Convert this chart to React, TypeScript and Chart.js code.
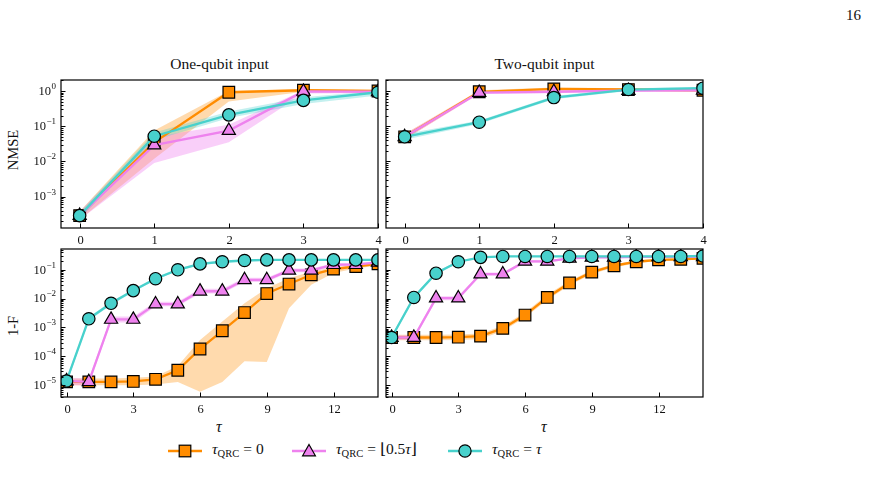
import React, { useEffect, useRef } from 'react';
import { Chart, registerables } from 'chart.js';

Chart.register(...registerables);

const SERIF = '"Liberation Serif", "Times New Roman", "DejaVu Serif", serif';

// Delays on the x axes
const tauShort = [0, 1, 2, 3, 4];
const tauLong = [0, 1, 2, 3, 4, 5, 6, 7, 8, 9, 10, 11, 12, 13, 14];

// Tick positions
const shortTicks = [0, 1, 2, 3, 4];
const longTicks = [0, 3, 6, 9, 12];
const nmseDecades = [0, -1, -2, -3];
const fidDecades = [-1, -2, -3, -4, -5];

// NMSE, one-qubit input
const nmse1Zero = [2.9e-4, 0.035, 0.92, 1.05, 1.0];
const nmse1ZeroLo = [2.2e-4, 0.012, 0.5, 0.95, 0.93];
const nmse1ZeroHi = [3.8e-4, 0.075, 1.0, 1.12, 1.06];
const nmse1Half = [2.9e-4, 0.029, 0.075, 0.97, 0.95];
const nmse1HalfLo = [2.2e-4, 0.009, 0.035, 0.85, 0.88];
const nmse1HalfHi = [3.8e-4, 0.05, 0.11, 1.05, 1.0];
const nmse1Full = [2.9e-4, 0.052, 0.21, 0.54, 0.92];
const nmse1FullLo = [2.3e-4, 0.04, 0.17, 0.43, 0.75];
const nmse1FullHi = [3.6e-4, 0.066, 0.26, 0.66, 1.02];

// NMSE, two-qubit input
const nmse2Zero = [0.05, 0.95, 1.15, 1.1, 1.05];
const nmse2ZeroLo = [0.042, 0.85, 1.05, 1.0, 0.97];
const nmse2ZeroHi = [0.06, 1.05, 1.25, 1.2, 1.12];
const nmse2Half = [0.05, 0.9, 0.95, 1.02, 1.05];
const nmse2HalfLo = [0.042, 0.82, 0.87, 0.95, 0.97];
const nmse2HalfHi = [0.06, 1.0, 1.04, 1.1, 1.12];
const nmse2Full = [0.05, 0.13, 0.65, 1.1, 1.2];
const nmse2FullLo = [0.041, 0.115, 0.58, 1.0, 1.1];
const nmse2FullHi = [0.06, 0.145, 0.72, 1.2, 1.3];

// Infidelity 1-F, one-qubit input
const fid1Zero = [1.3e-5, 1.3e-5, 1.3e-5, 1.35e-5, 1.6e-5, 3.3e-5, 1.8e-4, 7.7e-4, 3.3e-3, 0.015, 0.032, 0.067, 0.105, 0.13, 0.16];
const fid1ZeroLo = [1.0e-5, 1.0e-5, 1.0e-5, 1.0e-5, 1.05e-5, 1.3e-5, 5.9e-6, 1.3e-5, 6.8e-5, 6.4e-5, 4.6e-3, 0.03, 0.077, 0.11, 0.14];
const fid1ZeroHi = [1.7e-5, 1.7e-5, 1.7e-5, 1.8e-5, 2.0e-5, 4.6e-5, 3.7e-4, 1.6e-3, 6.9e-3, 0.023, 0.051, 0.087, 0.12, 0.15, 0.18];
const fid1Half = [1.4e-5, 1.3e-5, 1.9e-3, 1.9e-3, 6.5e-3, 6.5e-3, 0.018, 0.018, 0.045, 0.045, 0.095, 0.095, 0.15, 0.15, 0.18];
const fid1HalfLo = [1.0e-5, 1.0e-5, 1.5e-3, 1.5e-3, 5.4e-3, 5.4e-3, 0.015, 0.015, 0.038, 0.038, 0.082, 0.082, 0.13, 0.13, 0.16];
const fid1HalfHi = [1.8e-5, 1.7e-5, 2.4e-3, 2.4e-3, 7.8e-3, 7.8e-3, 0.022, 0.022, 0.053, 0.053, 0.11, 0.11, 0.17, 0.17, 0.2];
const fid1Full = [1.4e-5, 2.0e-3, 6.9e-3, 0.019, 0.049, 0.1, 0.16, 0.19, 0.21, 0.22, 0.22, 0.22, 0.22, 0.22, 0.22];
const fid1FullLo = [1.1e-5, 1.7e-3, 6.0e-3, 0.017, 0.044, 0.09, 0.145, 0.175, 0.195, 0.205, 0.205, 0.205, 0.205, 0.205, 0.205];
const fid1FullHi = [1.7e-5, 2.3e-3, 7.9e-3, 0.021, 0.055, 0.11, 0.175, 0.205, 0.225, 0.235, 0.235, 0.235, 0.235, 0.235, 0.235];

// Infidelity 1-F, two-qubit input
const fid2Zero = [4.5e-4, 4.5e-4, 4.5e-4, 4.6e-4, 5.0e-4, 9.3e-4, 2.7e-3, 0.011, 0.035, 0.083, 0.138, 0.19, 0.22, 0.23, 0.25];
const fid2ZeroLo = [3.6e-4, 3.6e-4, 3.6e-4, 3.7e-4, 4.0e-4, 7.5e-4, 2.2e-3, 0.009, 0.029, 0.071, 0.12, 0.17, 0.2, 0.21, 0.23];
const fid2ZeroHi = [5.6e-4, 5.6e-4, 5.6e-4, 5.7e-4, 6.2e-4, 1.15e-3, 3.3e-3, 0.0135, 0.042, 0.096, 0.155, 0.21, 0.24, 0.25, 0.27];
const fid2Half = [4.5e-4, 4.5e-4, 0.0104, 0.0104, 0.071, 0.071, 0.195, 0.195, 0.25, 0.27, 0.27, 0.28, 0.28, 0.28, 0.28];
const fid2HalfLo = [3.7e-4, 3.7e-4, 0.0088, 0.0088, 0.062, 0.062, 0.175, 0.175, 0.23, 0.25, 0.25, 0.26, 0.26, 0.26, 0.26];
const fid2HalfHi = [5.4e-4, 5.4e-4, 0.0122, 0.0122, 0.081, 0.081, 0.215, 0.215, 0.27, 0.29, 0.29, 0.3, 0.3, 0.3, 0.3];
const fid2Full = [4.5e-4, 0.011, 0.076, 0.19, 0.27, 0.29, 0.29, 0.29, 0.29, 0.29, 0.29, 0.29, 0.29, 0.29, 0.3];
const fid2FullLo = [3.8e-4, 0.0095, 0.067, 0.175, 0.255, 0.275, 0.275, 0.275, 0.275, 0.275, 0.275, 0.275, 0.275, 0.275, 0.285];
const fid2FullHi = [5.3e-4, 0.0125, 0.085, 0.205, 0.285, 0.305, 0.305, 0.305, 0.305, 0.305, 0.305, 0.305, 0.305, 0.305, 0.315];

const ORANGE = '#ff8c00';
const VIOLET = '#ee82ee';
const TURQ = '#48d1cc';

type Series = {
  mid: number[];
  lo: number[];
  hi: number[];
  color: string;
  band: string;
  marker: 'rect' | 'triangle' | 'circle';
  radius: number;
  order: number;
};

const styleZero = { color: ORANGE, band: 'rgba(255,140,0,0.32)', marker: 'rect' as const, radius: 8.2, order: 3 };
const styleHalf = { color: VIOLET, band: 'rgba(238,130,238,0.38)', marker: 'triangle' as const, radius: 7.6, order: 2 };
const styleFull = { color: TURQ, band: 'rgba(72,209,204,0.32)', marker: 'circle' as const, radius: 6.2, order: 1 };

const PAD = { l: 52, r: 10, t: 10, b: 24 };

function drawPow(ctx: CanvasRenderingContext2D, exp: number, right: number, y: number) {
  const base = '10';
  const sup = exp < 0 ? '\u2212' + Math.abs(exp) : String(exp);
  ctx.font = `12.5px ${SERIF}`;
  const wb = ctx.measureText(base).width;
  ctx.font = `9px ${SERIF}`;
  const ws = ctx.measureText(sup).width;
  const x0 = right - wb - ws - 0.5;
  ctx.textAlign = 'left';
  ctx.textBaseline = 'middle';
  ctx.font = `12.5px ${SERIF}`;
  ctx.fillText(base, x0, y + 0.5);
  ctx.font = `9px ${SERIF}`;
  ctx.fillText(sup, x0 + wb + 0.5, y - 4.5);
}

const framePlugin = {
  id: 'frame',
  afterDatasetsDraw(chart: any, _args: any, opts: any) {
    const { ctx, chartArea: a } = chart;
    const xs = chart.scales.x;
    const ys = chart.scales.y;
    ctx.save();
    ctx.strokeStyle = '#000';
    ctx.fillStyle = '#111';
    ctx.lineWidth = 1;
    // x ticks (inward)
    for (const v of opts.xTicks as number[]) {
      const px = Math.round(xs.getPixelForValue(v)) + 0.5;
      ctx.beginPath();
      ctx.moveTo(px, a.bottom);
      ctx.lineTo(px, a.bottom - 4.5);
      ctx.stroke();
      ctx.font = `12.5px ${SERIF}`;
      ctx.textAlign = 'center';
      ctx.textBaseline = 'middle';
      ctx.fillText(String(v), px, a.bottom + 12.5);
    }
    // y log ticks (inward), major and minor
    const lmin = Math.log10(ys.min);
    const lmax = Math.log10(ys.max);
    for (let d = Math.floor(lmin); d <= Math.ceil(lmax); d++) {
      for (let m = 1; m <= 9; m++) {
        const v = m * Math.pow(10, d);
        if (v < ys.min || v > ys.max) continue;
        const py = Math.round(ys.getPixelForValue(v)) + 0.5;
        ctx.beginPath();
        ctx.moveTo(a.left, py);
        ctx.lineTo(a.left + (m === 1 ? 4.5 : 2.5), py);
        ctx.stroke();
      }
    }
    if (opts.yLabels) {
      for (const d of opts.decades as number[]) {
        const py = ys.getPixelForValue(Math.pow(10, d));
        drawPow(ctx, d, a.left - 5, py);
      }
    }
    ctx.lineWidth = 1.2;
    ctx.strokeRect(a.left, a.top, a.right - a.left, a.bottom - a.top);
    ctx.restore();
  },
};

type PanelProps = {
  left: number;
  top: number;
  width: number;
  height: number;
  taus: number[];
  xMin: number;
  xMax: number;
  yMin: number;
  yMax: number;
  xTicks: number[];
  decades: number[];
  yLabels: boolean;
  series: Series[];
};

function Panel(p: PanelProps) {
  const ref = useRef<HTMLCanvasElement | null>(null);
  const cw = p.width + PAD.l + PAD.r;
  const ch = p.height + PAD.t + PAD.b;

  useEffect(() => {
    if (!ref.current) return;
    const pts = (vals: number[]) => p.taus.map((t, i) => ({ x: t, y: vals[i] }));
    const datasets: any[] = [];
    for (const s of p.series) {
      datasets.push({
        data: pts(s.lo),
        borderWidth: 0,
        pointRadius: 0,
        fill: false,
        order: 10 + s.order,
      });
      datasets.push({
        data: pts(s.hi),
        borderWidth: 0,
        pointRadius: 0,
        backgroundColor: s.band,
        fill: '-1',
        order: 10 + s.order,
      });
    }
    for (const s of p.series) {
      datasets.push({
        data: pts(s.mid),
        borderColor: s.color,
        borderWidth: 2.3,
        backgroundColor: s.color,
        pointStyle: s.marker,
        pointRadius: s.radius,
        pointBackgroundColor: s.color,
        pointBorderColor: '#000',
        pointBorderWidth: 1.2,
        fill: false,
        tension: 0,
        order: s.order,
      });
    }
    const chart = new Chart(ref.current, {
      type: 'line',
      data: { datasets },
      plugins: [framePlugin],
      options: {
        responsive: false,
        animation: false,
        devicePixelRatio: 1,
        events: [],
        layout: { padding: { left: PAD.l, right: PAD.r, top: PAD.t, bottom: PAD.b } },
        plugins: {
          legend: { display: false },
          tooltip: { enabled: false },
          frame: { xTicks: p.xTicks, decades: p.decades, yLabels: p.yLabels },
        } as any,
        scales: {
          x: { type: 'linear', min: p.xMin, max: p.xMax, display: false },
          y: { type: 'logarithmic', min: p.yMin, max: p.yMax, display: false },
        },
      },
    } as any);
    return () => chart.destroy();
  }, []);

  return (
    <canvas
      ref={ref}
      width={cw}
      height={ch}
      style={{ position: 'absolute', left: p.left - PAD.l, top: p.top - PAD.t, width: cw, height: ch }}
    />
  );
}

function mk(mid: number[], lo: number[], hi: number[], st: typeof styleZero | typeof styleHalf | typeof styleFull): Series {
  return { mid, lo, hi, ...st } as Series;
}

function LegendMarker({ kind, color }: { kind: string; color: string }) {
  return (
    <svg width={34} height={16} style={{ position: 'absolute', left: 0, top: 0 }}>
      <line x1={0} y1={8} x2={34} y2={8} stroke={color} strokeWidth={2.3} />
      {kind === 'rect' && <rect x={11.2} y={2.2} width={11.6} height={11.6} fill={color} stroke="#000" strokeWidth={1.2} />}
      {kind === 'triangle' && <polygon points="17,1.5 23.4,12.8 10.6,12.8" fill={color} stroke="#000" strokeWidth={1.2} />}
      {kind === 'circle' && <circle cx={17} cy={8} r={6.1} fill={color} stroke="#000" strokeWidth={1.2} />}
    </svg>
  );
}

function LegendItem({ x, kind, color, rhs }: { x: number; kind: string; color: string; rhs: React.ReactNode }) {
  return (
    <div style={{ position: 'absolute', left: x, top: 443, width: 170, height: 18 }}>
      <LegendMarker kind={kind} color={color} />
      <div style={{ position: 'absolute', left: 44, top: -3, fontFamily: SERIF, fontSize: 15.5, color: '#111', whiteSpace: 'nowrap' }}>
        <span style={{ fontStyle: 'italic' }}>τ</span>
        <span style={{ fontSize: 10.5, position: 'relative', top: 3 }}>QRC</span>
        <span style={{ marginLeft: 4 }}>=</span>
        <span style={{ marginLeft: 4 }}>{rhs}</span>
      </div>
    </div>
  );
}

const textBase: React.CSSProperties = { position: 'absolute', fontFamily: SERIF, color: '#111', whiteSpace: 'nowrap' };

export default function App() {
  const boxW = 317;
  const boxH = 148;
  return (
    <div style={{ position: 'absolute', left: 0, top: 0, width: 870, height: 496, background: '#fff', overflow: 'hidden' }}>
      <div style={{ ...textBase, left: 846, top: 7, fontSize: 15 }}>16</div>

      <div style={{ ...textBase, left: 61, width: 317, top: 55, fontSize: 15.5, textAlign: 'center' }}>One-qubit input</div>
      <div style={{ ...textBase, left: 386, width: 317, top: 55, fontSize: 15.5, textAlign: 'center' }}>Two-qubit input</div>

      <div style={{ ...textBase, left: 13, top: 150, fontSize: 14.5, transform: 'translate(-50%, -50%) rotate(-90deg)' }}>NMSE</div>
      <div style={{ ...textBase, left: 13, top: 326, fontSize: 14.5, transform: 'translate(-50%, -50%) rotate(-90deg)' }}>1-F</div>

      <div style={{ ...textBase, left: 216, top: 418, fontSize: 16, fontStyle: 'italic' }}>τ</div>
      <div style={{ ...textBase, left: 541, top: 418, fontSize: 16, fontStyle: 'italic' }}>τ</div>

      <Panel
        left={61} top={80} width={boxW} height={boxH}
        taus={tauShort} xMin={-0.25} xMax={4} yMin={1.29e-4} yMax={2.05}
        xTicks={shortTicks} decades={nmseDecades} yLabels={true}
        series={[
          mk(nmse1Zero, nmse1ZeroLo, nmse1ZeroHi, styleZero),
          mk(nmse1Half, nmse1HalfLo, nmse1HalfHi, styleHalf),
          mk(nmse1Full, nmse1FullLo, nmse1FullHi, styleFull),
        ]}
      />
      <Panel
        left={386} top={80} width={boxW} height={boxH}
        taus={tauShort} xMin={-0.25} xMax={4} yMin={1.29e-4} yMax={2.05}
        xTicks={shortTicks} decades={nmseDecades} yLabels={false}
        series={[
          mk(nmse2Zero, nmse2ZeroLo, nmse2ZeroHi, styleZero),
          mk(nmse2Half, nmse2HalfLo, nmse2HalfHi, styleHalf),
          mk(nmse2Full, nmse2FullLo, nmse2FullHi, styleFull),
        ]}
      />
      <Panel
        left={61} top={249} width={boxW} height={boxH}
        taus={tauLong} xMin={-0.25} xMax={14} yMin={3.9e-6} yMax={0.525}
        xTicks={longTicks} decades={fidDecades} yLabels={true}
        series={[
          mk(fid1Zero, fid1ZeroLo, fid1ZeroHi, styleZero),
          mk(fid1Half, fid1HalfLo, fid1HalfHi, styleHalf),
          mk(fid1Full, fid1FullLo, fid1FullHi, styleFull),
        ]}
      />
      <Panel
        left={386} top={249} width={boxW} height={boxH}
        taus={tauLong} xMin={-0.25} xMax={14} yMin={3.9e-6} yMax={0.525}
        xTicks={longTicks} decades={fidDecades} yLabels={false}
        series={[
          mk(fid2Zero, fid2ZeroLo, fid2ZeroHi, styleZero),
          mk(fid2Half, fid2HalfLo, fid2HalfHi, styleHalf),
          mk(fid2Full, fid2FullLo, fid2FullHi, styleFull),
        ]}
      />

      <LegendItem x={168} kind="rect" color={ORANGE} rhs={<span>0</span>} />
      <LegendItem x={292} kind="triangle" color={VIOLET} rhs={<span>⌊0.5<span style={{ fontStyle: 'italic' }}>τ</span>⌋</span>} />
      <LegendItem x={448} kind="circle" color={TURQ} rhs={<span style={{ fontStyle: 'italic' }}>τ</span>} />
    </div>
  );
}
